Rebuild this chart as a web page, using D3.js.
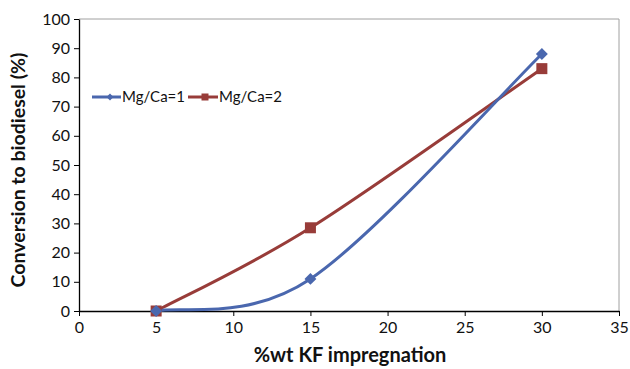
<!DOCTYPE html>
<html>
<head>
<script src="https://d3js.org/d3.v7.min.js"></script>
<style>
  body { margin: 0; padding: 0; background: #fff; }
  text { font-family: Lato, "Open Sans", sans-serif; fill: #111; }
</style>
</head>
<body>
<div id="chart"></div>
<script>
// data
var xLoad = [5, 15, 30];
var conv1 = [0, 11, 88];     // Mg/Ca=1
var conv2 = [0, 28.5, 83];   // Mg/Ca=2
var seriesNames = ["Mg/Ca=1", "Mg/Ca=2"];
var xTicks = [0, 5, 10, 15, 20, 25, 30, 35];
var yTicks = [0, 10, 20, 30, 40, 50, 60, 70, 80, 90, 100];

var width = 630, height = 369;
var pLeft = 79, pRight = 619, pTop = 19, pBottom = 311;

var svg = d3.select("#chart").append("svg")
    .attr("width", width)
    .attr("height", height);

var x = d3.scaleLinear().domain([0, 35]).range([pLeft, pRight]);
var y = d3.scaleLinear().domain([0, 100]).range([pBottom, pTop]);

// plot border (top/right grey)
svg.append("path")
    .attr("d", "M" + pLeft + "," + pTop + "H" + pRight + "V" + pBottom)
    .attr("fill", "none")
    .attr("stroke", "#a0a0a0")
    .attr("stroke-width", 1);

var xAxis = svg.append("g")
    .attr("transform", "translate(0," + pBottom + ")")
    .call(d3.axisBottom(x).tickValues(xTicks).tickSize(5).tickSizeOuter(0).tickPadding(6));
var yAxis = svg.append("g")
    .attr("transform", "translate(" + pLeft + ",0)")
    .call(d3.axisLeft(y).tickValues(yTicks).tickSize(5).tickSizeOuter(0).tickPadding(4));

[xAxis, yAxis].forEach(function(g) {
    g.select(".domain").attr("stroke", "#000").attr("stroke-width", 1.3);
    g.selectAll(".tick line").attr("stroke", "#000");
    g.selectAll(".tick text").style("font-size", "16px").attr("fill", "#111");
});

svg.append("text")
    .text("%wt KF impregnation")
    .attr("x", (pLeft + pRight) / 2 + 1)
    .attr("y", 362)
    .attr("text-anchor", "middle")
    .style("font-size", "20px")
    .style("font-weight", "bold");

svg.append("text")
    .text("Conversion to biodiesel (%)")
    .attr("transform", "translate(25," + ((pTop + pBottom) / 2 + 5) + ") rotate(-90)")
    .attr("text-anchor", "middle")
    .style("font-size", "19.5px")
    .style("font-weight", "bold");

var blue = "#4a67ae", red = "#983c39";

// Excel-style smoothed line: handle = (next - prev) / 6, ends use the point
// itself as the missing neighbour, handle capped at half the segment
function smoothPath(xs, ys) {
    var p = xs.map(function(v, i) { return [x(v), y(ys[i])]; });
    var n = p.length;
    var path = d3.path();
    path.moveTo(p[0][0], p[0][1]);
    for (var i = 0; i < n - 1; i++) {
        var p0 = p[Math.max(i - 1, 0)], p1 = p[i], p2 = p[i + 1], p3 = p[Math.min(i + 2, n - 1)];
        var d12 = Math.hypot(p2[0] - p1[0], p2[1] - p1[1]);
        var h1 = [(p2[0] - p0[0]) / 6, (p2[1] - p0[1]) / 6];
        var h2 = [(p3[0] - p1[0]) / 6, (p3[1] - p1[1]) / 6];
        var l1 = Math.hypot(h1[0], h1[1]), l2 = Math.hypot(h2[0], h2[1]);
        if (l1 > d12 / 2) { h1 = [h1[0] * d12 / 2 / l1, h1[1] * d12 / 2 / l1]; }
        if (l2 > d12 / 2) { h2 = [h2[0] * d12 / 2 / l2, h2[1] * d12 / 2 / l2]; }
        path.bezierCurveTo(p1[0] + h1[0], p1[1] + h1[1], p2[0] - h2[0], p2[1] - h2[1], p2[0], p2[1]);
    }
    return path.toString();
}

svg.append("path").attr("d", smoothPath(xLoad, conv2))
    .attr("fill", "none").attr("stroke", red).attr("stroke-width", 3);
svg.append("path").attr("d", smoothPath(xLoad, conv1))
    .attr("fill", "none").attr("stroke", blue).attr("stroke-width", 3);

function diamond(g, cx, cy, s) {
    g.append("path")
        .attr("d", d3.symbol().type(d3.symbolDiamond2).size(s)())
        .attr("transform", "translate(" + cx + "," + cy + ")")
        .attr("fill", blue);
}
function square(g, cx, cy, s) {
    g.append("rect")
        .attr("x", cx - s / 2).attr("y", cy - s / 2)
        .attr("width", s).attr("height", s)
        .attr("fill", red);
}

xLoad.forEach(function(v, i) { square(svg, x(v), y(conv2[i]), 11); });
xLoad.forEach(function(v, i) { diamond(svg, x(v), y(conv1[i]), 90); });

// legend
var leg = svg.append("g");
leg.append("line").attr("x1", 92).attr("x2", 121).attr("y1", 97).attr("y2", 97)
    .attr("stroke", blue).attr("stroke-width", 3);
diamond(leg, 110, 97, 30);
leg.append("text").text(seriesNames[0]).attr("x", 122).attr("y", 102).style("font-size", "15px");

leg.append("line").attr("x1", 188).attr("x2", 218).attr("y1", 97).attr("y2", 97)
    .attr("stroke", red).attr("stroke-width", 3);
square(leg, 205, 97, 7);
leg.append("text").text(seriesNames[1]).attr("x", 219).attr("y", 102).style("font-size", "15px");
</script>
</body>
</html>
